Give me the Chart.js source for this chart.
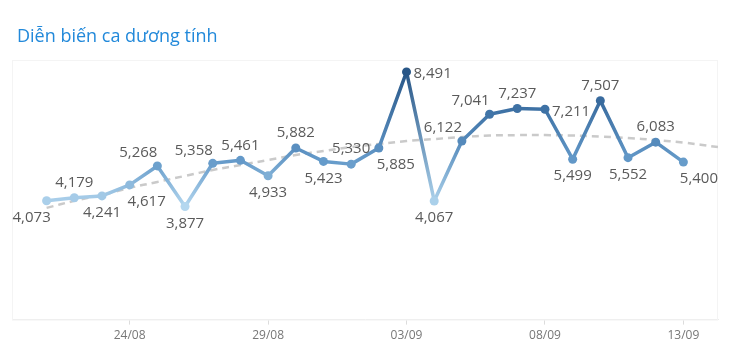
<!DOCTYPE html>
<html>
<head>
<meta charset="utf-8">
<script src="https://cdn.jsdelivr.net/npm/chart.js@4.4.1/dist/chart.umd.min.js"></script>
<style>
  body { margin: 0; background: #fff; }
  #wrap { position: relative; width: 730px; height: 359px; }
  #title { position: absolute; left: 17px; top: 23px; font: 18px "Open Sans", sans-serif; color: #2289da; }
</style>
</head>
<body>
<div id="wrap">
  <div id="title">Diễn biến ca dương tính</div>
  <canvas id="casesChart" width="730" height="359"></canvas>
</div>
<script>
var dates = ['21/08','22/08','23/08','24/08','25/08','26/08','27/08','28/08','29/08','30/08','31/08',
             '01/09','02/09','03/09','04/09','05/09','06/09','07/09','08/09','09/09','10/09','11/09','12/09','13/09'];
var cases = [4073,4179,4241,4617,5268,3877,5358,5461,4933,5882,5423,5330,5885,8491,4067,6122,7041,7237,7211,5499,7507,5552,6083,5400];
// trend line, one value per day, plus the value at the right edge
var trend = [3830,4070,4275,4515,4720,4925,5130,5300,5470,5645,5780,5915,6020,6120,6190,6260,6310,6325,6325,6310,6275,6225,6155,6070];
var trendEnd = 5915;
var tickDates = ['24/08','29/08','03/09','08/09','13/09'];
// where each value label sits relative to its point
var labelPos = ['bl','t','b','br','tl','b','tl','t','b','t','b','t','br','r','b','tl','tl','t','r','b','t','b','t','br'];

var xMin = -1.25, xMax = dates.length - 1 + 1.25;
var vMin = Math.min.apply(null, cases), vMax = Math.max.apply(null, cases);

var stops = [[0,[180,215,239]],[0.35,[98,152,200]],[0.7,[64,116,167]],[1,[40,86,135]]];
function colorFor(v) {
    var t = (v - vMin) / (vMax - vMin);
    for (var i = 1; i < stops.length; i++) {
        if (t <= stops[i][0]) {
            var a = stops[i-1], b = stops[i];
            var f = (t - a[0]) / (b[0] - a[0]);
            var c = a[1].map(function(x, k) { return Math.round(x + (b[1][k] - x) * f); });
            return 'rgb(' + c.join(',') + ')';
        }
    }
    return 'rgb(' + stops[stops.length-1][1].join(',') + ')';
}

var casePoints = cases.map(function(v, i) { return {x: i, y: v}; });
var trendPoints = trend.map(function(v, i) { return {x: i, y: v}; });
trendPoints.push({x: xMax, y: trendEnd});

var offsets = {
    t:  [0, -15], b: [0, 17], tl: [-19, -13], br: [17, 17], bl: [-15, 17], r: [7, 2]
};

var labelPlugin = {
    id: 'valueLabels',
    afterDatasetsDraw: function(chart) {
        var ctx = chart.ctx, area = chart.chartArea;
        var meta = chart.getDatasetMeta(0);
        ctx.save();
        ctx.font = '15px "Open Sans", sans-serif';
        ctx.fillStyle = '#5a5a5a';
        ctx.textBaseline = 'middle';
        ctx.textAlign = 'left';
        meta.data.forEach(function(pt, i) {
            var text = cases[i].toLocaleString('en-US');
            var w = ctx.measureText(text).width;
            var pos = labelPos[i], o = offsets[pos];
            var left = pos === 'r' ? pt.x + o[0] : pt.x + o[0] - w / 2;
            left = Math.max(area.left, Math.min(area.right - w, left));
            ctx.fillText(text, left, pt.y + o[1]);
        });
        ctx.restore();
    }
};

var paneBorder = {
    id: 'paneBorder',
    beforeDatasetsDraw: function(chart) {
        var a = chart.chartArea, ctx = chart.ctx;
        ctx.save();
        ctx.strokeStyle = '#f4f4f4';
        ctx.lineWidth = 1;
        ctx.strokeRect(a.left + 0.5, a.top + 0.5, a.right - a.left - 1, a.bottom - a.top);
        ctx.restore();
    }
};

var config = {
    type: 'line',
    data: {
        datasets: [
            {
                label: 'Ca dương tính',
                data: casePoints,
                order: 0,
                borderWidth: 3.5,
                borderCapStyle: 'round',
                borderJoinStyle: 'round',
                pointRadius: 4.5,
                pointBorderWidth: 0,
                pointBackgroundColor: cases.map(colorFor),
                segment: {
                    borderColor: function(c) {
                        var g = c.chart.ctx.createLinearGradient(c.p0.x, c.p0.y, c.p1.x, c.p1.y);
                        g.addColorStop(0, colorFor(cases[c.p0DataIndex]));
                        g.addColorStop(1, colorFor(cases[c.p1DataIndex]));
                        return g;
                    }
                }
            },
            {
                label: 'Xu hướng',
                data: trendPoints,
                order: 1,
                borderColor: '#cacaca',
                borderWidth: 2.5,
                borderDash: [7, 5],
                pointRadius: 0,
                tension: 0.4
            }
        ]
    },
    options: {
        responsive: false,
        animation: false,
        layout: { padding: { top: 60, left: 12, right: 12, bottom: 12 } },
        plugins: {
            legend: { display: false },
            tooltip: { enabled: false }
        },
        scales: {
            x: {
                type: 'linear',
                min: xMin,
                max: xMax,
                afterBuildTicks: function(scale) {
                    scale.ticks = tickDates.map(function(d) { return {value: dates.indexOf(d)}; });
                },
                ticks: {
                    callback: function(v) { return dates[v]; },
                    font: { family: 'Open Sans', size: 12 },
                    color: '#777',
                    padding: 4,
                    maxRotation: 0
                },
                grid: { drawOnChartArea: false, tickLength: 5, color: '#dcdcdc' },
                border: { color: '#ececec' }
            },
            y: {
                display: false,
                min: 0,
                max: 8900
            }
        }
    },
    plugins: [paneBorder, labelPlugin]
};

var casesChart = new Chart(document.getElementById('casesChart'), config);
</script>
</body>
</html>
